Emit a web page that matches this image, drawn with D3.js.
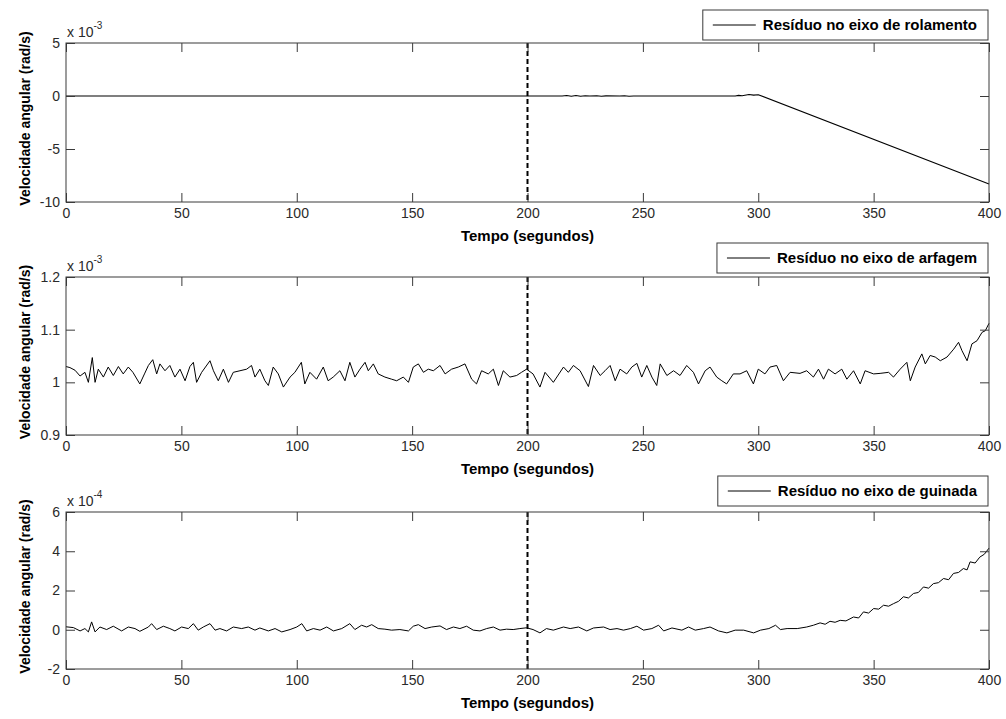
<!DOCTYPE html>
<html><head><meta charset="utf-8">
<script src="https://cdn.jsdelivr.net/npm/d3@7"></script>
<style>body{margin:0;background:#fff}svg{display:block}</style>
</head><body>
<svg id="c" width="1006" height="719"></svg>
<script>
// ---------- data ----------
const xTicks = [0, 50, 100, 150, 200, 250, 300, 350, 400];
const faultTime = [200];

// Roll residual (x 1e-3 rad/s)
const rollT = [0, 215, 217, 219, 221, 223, 225, 227, 230, 232, 234, 240, 242, 244, 246, 290, 291.5, 293, 296, 298, 300, 400];
const rollV = [0, 0, 0.04, -0.03, 0.04, -0.02, 0.03, 0, 0.03, -0.03, 0.01, 0, 0.03, -0.02, 0, 0, 0.06, 0.03, 0.14, 0.08, 0.12, -8.3];
const rollTicks = [-10, -5, 0, 5];

// Pitch residual (x 1e-3 rad/s)
const pitchT = [0,1.7,3.9,6.1,8.2,9.7,11.4,12.6,14.0,16.2,18.3,20.5,22.7,24.8,27.0,29.0,32.0,34.0,35.7,37.6,39.3,40.7,42.9,45.0,47.2,49.4,51.6,53.7,55.2,56.6,58.8,62.4,63.9,66.0,68.2,70.4,72.5,75.4,78.3,80.4,81.9,84.0,86.2,87.7,89.8,92.0,94.2,97.1,99.2,102.0,103.5,105.7,108.6,111.5,113.6,115.8,118.7,120.9,123.0,125.2,127.4,129.6,131.0,133.2,135.3,138.2,141.1,143.3,146.2,148.4,150.5,152.7,154.9,157.0,159.2,162.1,164.3,167.1,170.0,172.9,175.8,177.9,180.1,183.0,185.2,187.4,189.5,192.4,195.3,197.4,199.6,202.4,205.4,207.6,211.2,215.6,217.7,219.9,222.8,226.4,228.6,231.5,233.6,235.8,238.0,240.1,243.0,245.2,247.4,249.5,251.7,253.9,256.0,257.5,260.4,263.3,266.1,269.0,271.9,274.1,277.0,279.1,282.0,284.2,286.3,289.2,292.1,295.0,297.9,300.0,302.9,305.1,308.0,310.9,313.8,318.1,321.0,323.9,326.1,328.3,330.4,333.3,336.2,338.4,341.3,344.2,346.3,350.0,352.8,356.5,358.6,361.5,364.4,365.9,368.0,370.9,372.4,374.5,376.7,378.9,381.8,384.7,386.8,388.3,390.5,392.6,394.8,397.0,398.4,400.0];
const pitchV = [1.030,1.028,1.023,1.012,1.019,1.000,1.047,1.000,1.025,1.010,1.029,1.013,1.030,1.016,1.029,1.019,0.997,1.016,1.032,1.043,1.016,1.035,1.022,1.032,1.010,1.025,1.003,1.030,1.038,1.000,1.019,1.041,1.022,1.003,1.025,1.000,1.019,1.022,1.025,1.032,1.010,1.025,1.003,0.994,1.029,1.016,0.991,1.010,1.019,1.038,0.997,1.019,1.006,1.029,1.003,1.010,1.022,1.003,1.038,1.010,1.025,1.038,1.022,1.035,1.016,1.010,1.006,1.003,1.010,1.000,1.029,1.035,1.019,1.025,1.022,1.032,1.016,1.025,1.029,1.035,1.006,0.997,1.022,1.016,1.025,0.994,1.022,1.010,1.013,1.019,1.025,1.016,0.991,1.019,1.000,1.029,1.019,1.032,1.022,0.992,1.032,1.013,1.022,1.032,1.003,1.025,1.016,1.029,1.036,1.010,1.032,1.010,0.994,1.035,1.013,1.022,1.013,1.032,1.019,0.997,1.022,1.029,1.010,1.003,0.997,1.016,1.016,1.022,0.997,1.025,1.016,1.029,1.032,1.003,1.019,1.017,1.022,1.010,1.025,1.006,1.025,1.016,1.025,1.006,1.022,0.997,1.022,1.016,1.017,1.019,1.010,1.025,1.038,1.003,1.029,1.054,1.035,1.051,1.048,1.041,1.048,1.063,1.076,1.060,1.041,1.073,1.079,1.095,1.098,1.112];
const pitchTicks = [0.9, 1, 1.1, 1.2];

// Yaw residual (x 1e-4 rad/s)
const yawT = [0,3.2,6.1,8.2,9.7,11.1,12.6,14.7,17.6,20.5,24.1,27.0,29.9,32.0,35.7,37.1,39.3,42.2,45.0,47.2,50.1,53.0,55.2,57.3,59.5,62.4,64.6,66.7,69.6,72.5,76.1,79.0,81.9,84.0,87.7,90.6,93.5,97.1,100.0,102.2,104.3,107.2,110.1,113.0,115.9,119.5,123.0,125.2,128.1,130.3,132.5,135.3,138.2,141.1,144.7,148.4,150.5,152.7,155.6,158.5,162.1,164.9,167.9,170.7,173.6,176.5,179.4,182.3,185.2,188.1,190.9,193.8,196.7,199.6,202.4,205.4,208.2,211.2,215.6,218.5,222.1,225.7,228.6,233.0,235.8,238.8,241.6,244.6,247.4,250.3,253.9,256.8,259.0,262.6,266.9,269.8,272.7,276.3,279.1,282.8,286.4,290.0,293.7,298.0,301.0,304.6,307.5,309.6,312.5,316.9,321.0,323.9,326.8,329.0,331.1,333.3,335.5,338.0,341.3,343.5,345.6,347.8,350.0,352.2,354.3,356.5,358.6,360.8,362.9,365.1,367.3,369.4,371.6,373.8,375.9,378.1,380.3,382.5,384.6,386.8,388.9,390.5,391.8,394.0,396.0,398.0,400.0];
const yawV = [0.15,0.11,-0.06,0.06,-0.11,0.40,-0.11,0.14,0.01,0.18,-0.06,0.14,0.06,-0.08,0.14,0.31,0.01,0.18,0.06,-0.06,0.14,0.06,0.31,-0.02,0.14,0.31,-0.02,0.06,-0.06,0.14,0.06,0.14,-0.02,0.09,-0.06,0.06,-0.11,0.01,0.14,0.31,-0.06,0.06,-0.02,0.14,-0.06,0.06,0.31,0.01,0.23,0.14,0.26,0.06,0.03,-0.02,0.01,-0.06,0.18,0.26,0.06,0.14,0.195,0.01,0.14,0.06,0.18,-0.02,-0.06,0.06,0.14,-0.02,0.03,0.01,0.06,0.10,0.01,-0.16,0.06,-0.02,0.14,0.06,0.14,-0.06,0.09,0.14,0.01,0.06,-0.02,0.06,0.18,-0.02,0.06,0.23,-0.06,0.09,-0.02,0.14,-0.02,0.06,0.14,-0.06,-0.16,-0.02,-0.02,-0.16,-0.02,0.06,0.23,0.01,0.06,0.06,0.14,0.23,0.35,0.28,0.43,0.38,0.48,0.45,0.65,0.60,0.91,0.85,1.08,1.05,1.25,1.20,1.33,1.45,1.68,1.62,1.85,1.90,2.18,2.12,2.35,2.40,2.61,2.55,2.87,2.92,3.12,3.05,3.46,3.40,3.70,3.85,4.16];
const yawTicks = [-2, 0, 2, 4, 6];

const legendLabels = ["Resíduo no eixo de rolamento", "Resíduo no eixo de arfagem", "Resíduo no eixo de guinada"];
const exponents = ["-3", "-3", "-4"];
const yLabel = "Velocidade angular (rad/s)";
const xLabel = "Tempo (segundos)";

// ---------- layout ----------
const FONT = "'Liberation Sans', Arial, Helvetica, sans-serif";
const AX = "#3a3a3a";
const xL = 66, xR = 989;
const panels = [
  {top: 43, bottom: 202, T: rollT, V: rollV, ticks: rollTicks, lw: 1.1, legTop: 10},
  {top: 277, bottom: 435, T: pitchT, V: pitchV, ticks: pitchTicks, lw: 1, legTop: 243},
  {top: 512, bottom: 669, T: yawT, V: yawV, ticks: yawTicks, lw: 1, legTop: 476}
];

const svg = d3.select("#c");
svg.append("rect").attr("width", 1006).attr("height", 719).attr("fill", "#fff");

const x = d3.scaleLinear().domain([xTicks[0], xTicks[xTicks.length - 1]]).range([xL, xR]);

panels.forEach((p, i) => {
  const yDom = d3.extent(p.ticks);
  const y = d3.scaleLinear().domain(yDom).range([p.bottom, p.top]);
  const g = svg.append("g");

  // data line
  const data = p.T.map((t, k) => [t, p.V[k]]);
  g.append("path").datum(data)
    .attr("fill", "none").attr("stroke", "#000").attr("stroke-width", p.lw)
    .attr("stroke-linejoin", "round")
    .attr("d", d3.line().x(d => x(d[0])).y(d => y(d[1])));

  // dashed fault line
  g.selectAll(".fault").data(faultTime).enter().append("line")
    .attr("x1", d => x(d)).attr("x2", d => x(d))
    .attr("y1", p.top).attr("y2", p.bottom)
    .attr("stroke", "#000").attr("stroke-width", 2).attr("stroke-dasharray", "5,3");

  const fmt = d => String(d);
  // axes
  const bottom = g.append("g").attr("transform", `translate(0,${p.bottom})`)
    .call(d3.axisBottom(x).tickValues(xTicks).tickFormat(fmt).tickSizeInner(-9).tickSizeOuter(0).tickPadding(6));
  const top = g.append("g").attr("transform", `translate(0,${p.top})`)
    .call(d3.axisTop(x).tickValues(xTicks).tickFormat("").tickSizeInner(-9).tickSizeOuter(0));
  const left = g.append("g").attr("transform", `translate(${xL},0)`)
    .call(d3.axisLeft(y).tickValues(p.ticks).tickFormat(fmt).tickSizeInner(-9).tickSizeOuter(0).tickPadding(6));
  const right = g.append("g").attr("transform", `translate(${xR},0)`)
    .call(d3.axisRight(y).tickValues(p.ticks).tickFormat("").tickSizeInner(-9).tickSizeOuter(0));
  [bottom, top, left, right].forEach(a => {
    a.select(".domain").remove();
    a.selectAll("line").attr("stroke", AX);
    a.selectAll("text").attr("fill", "#2a2a2a").style("font-family", FONT).style("font-size", "14px");
  });
  // box
  g.append("rect").attr("x", xL).attr("y", p.top).attr("width", xR - xL).attr("height", p.bottom - p.top)
    .attr("fill", "none").attr("stroke", AX).attr("stroke-width", 1);

  // exponent
  const ex = g.append("text").attr("x", xL + 1).attr("y", p.top - 6)
    .attr("fill", "#2a2a2a").style("font-family", FONT).style("font-size", "14px").text("x 10");
  ex.append("tspan").attr("dy", -8).style("font-size", "10px").text(exponents[i]);

  // axis labels
  g.append("text").attr("transform", `translate(30,${(p.top + p.bottom) / 2 - 4}) rotate(-90)`)
    .attr("text-anchor", "middle").attr("fill", "#000")
    .style("font-family", FONT).style("font-size", "14px").style("font-weight", "bold").text(yLabel);
  g.append("text").attr("x", (xL + xR) / 2).attr("y", p.bottom + 39)
    .attr("text-anchor", "middle").attr("fill", "#000")
    .style("font-family", FONT).style("font-size", "15px").style("font-weight", "bold").text(xLabel);

  // legend
  const lg = g.append("g");
  const box = lg.append("rect").attr("y", p.legTop).attr("height", 30)
    .attr("fill", "#fff").attr("stroke", AX).attr("stroke-width", 1);
  const lt = lg.append("text").attr("y", p.legTop + 20).attr("fill", "#000")
    .style("font-family", FONT).style("font-size", "15px").style("font-weight", "bold").text(legendLabels[i]);
  const tw = lt.node().getComputedTextLength();
  const bw = 60 + tw + 11;
  const bx = 988 - bw;
  box.attr("x", bx).attr("width", bw);
  lt.attr("x", bx + 60);
  lg.append("line").attr("x1", bx + 10).attr("x2", bx + 53)
    .attr("y1", p.legTop + 15).attr("y2", p.legTop + 15)
    .attr("stroke", "#000").attr("stroke-width", 1);
});
</script>
</body></html>
